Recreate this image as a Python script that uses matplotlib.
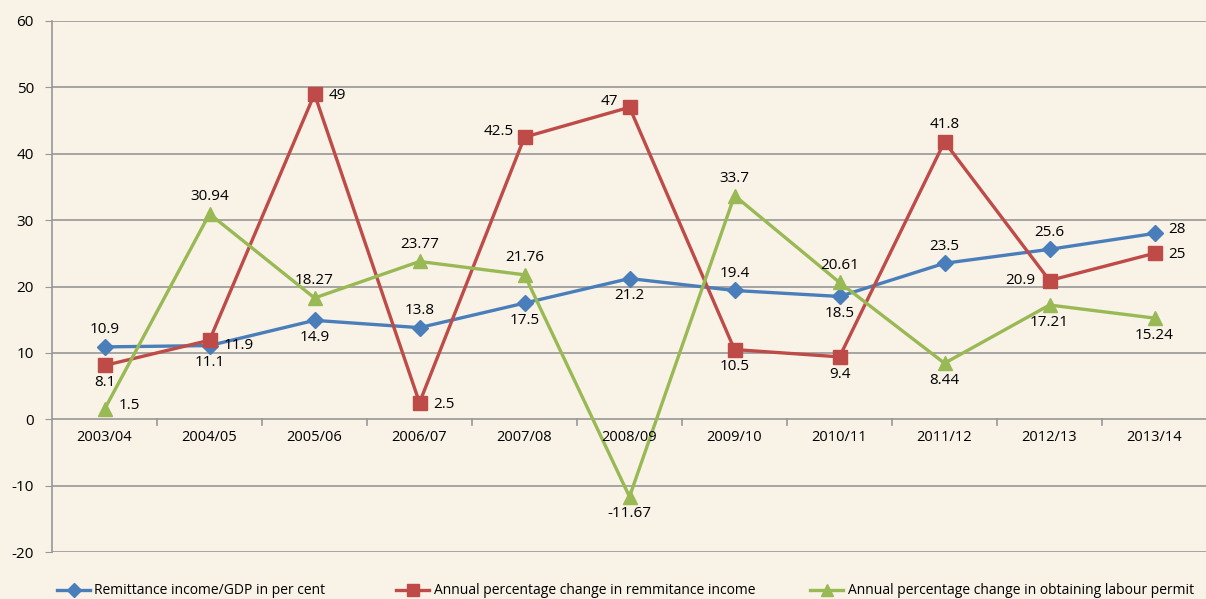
import matplotlib
matplotlib.use("Agg")
import matplotlib.pyplot as plt
from matplotlib.lines import Line2D

plt.rcParams['font.family'] = ['Open Sans', 'DejaVu Sans']
plt.rcParams['axes.unicode_minus'] = False

years = ["2003/04", "2004/05", "2005/06", "2006/07", "2007/08", "2008/09",
         "2009/10", "2010/11", "2011/12", "2012/13", "2013/14"]
gdp_share = [10.9, 11.1, 14.9, 13.8, 17.5, 21.2, 19.4, 18.5, 23.5, 25.6, 28]
remit_change = [8.1, 11.9, 49, 2.5, 42.5, 47, 10.5, 9.4, 41.8, 20.9, 25]
permit_change = [1.5, 30.94, 18.27, 23.77, 21.76, -11.67, 33.7, 20.61, 8.44, 17.21, 15.24]
gdp_labels = ["10.9", "11.1", "14.9", "13.8", "17.5", "21.2", "19.4", "18.5", "23.5", "25.6", "28"]
remit_labels = ["8.1", "11.9", "49", "2.5", "42.5", "47", "10.5", "9.4", "41.8", "20.9", "25"]
permit_labels = ["1.5", "30.94", "18.27", "23.77", "21.76", "-11.67", "33.7", "20.61", "8.44", "17.21", "15.24"]
series_names = ["Remittance income/GDP in per cent",
                "Annual percentage change in remmitance income",
                "Annual percentage change in obtaining labour permit"]

BG = "#f9f2e7"
BLUE = "#4a7ebb"
RED = "#be4b48"
GREEN = "#98b954"
GRID = "#979797"

fig = plt.figure(figsize=(12.06, 5.99), dpi=100, facecolor=BG)
ax = fig.add_axes([52/1206, 1 - 552/599, 1155/1206, 531/599])
ax.set_facecolor(BG)

x = list(range(len(years)))
ax.plot(x, gdp_share, color=BLUE, lw=2.4, marker='D', ms=8, zorder=3)
ax.plot(x, remit_change, color=RED, lw=2.4, marker='s', ms=10, zorder=3)
ax.plot(x, permit_change, color=GREEN, lw=2.4, marker='^', ms=10, zorder=3)

ax.set_xlim(-0.5, len(years) - 0.5)
ax.set_ylim(-20, 60)
ax.set_yticks(range(-20, 61, 10))
ax.grid(axis='y', color=GRID, lw=1.2)
ax.set_axisbelow(True)
for s in ['top', 'right', 'bottom']:
    ax.spines[s].set_visible(False)
ax.spines['left'].set_color(GRID)
ax.spines['left'].set_linewidth(1.2)
ax.tick_params(axis='y', length=5, color=GRID, labelsize=11, pad=8)
ax.tick_params(axis='x', length=0)
ax.set_xticks([])

# category labels and tick marks along the zero line
for i, lab in enumerate(years):
    ax.annotate(lab, (i, 0), xytext=(0, -8), textcoords='offset points',
                ha='center', va='top', fontsize=10.5)
for b in range(1, len(years)):
    ax.plot([b - 0.5, b - 0.5], [0, -0.9], color=GRID, lw=1.2, clip_on=False, zorder=1)

def lab(xi, yi, txt, pos):
    offs = {'above': ((0, 7), 'center', 'bottom'),
            'below': ((0, -7), 'center', 'top'),
            'right': ((10, -1), 'left', 'center'),
            'rightdown': ((10, -4), 'left', 'center'),
            'rightup': ((10, 3), 'left', 'center'),
            'left': ((-10, 0), 'right', 'center'),
            'leftup': ((-8, 4), 'right', 'center')}
    (dx, dy), ha, va = offs[pos]
    ax.annotate(txt, (xi, yi), xytext=(dx, dy), textcoords='offset points',
                ha=ha, va=va, fontsize=11, zorder=5)

gdp_pos = ['above', 'below', 'below', 'above', 'below', 'below', 'above', 'below', 'above', 'above', 'rightup']
remit_pos = ['below', 'rightdown', 'right', 'right', 'leftup', 'leftup', 'below', 'below', 'above', 'left', 'right']
permit_pos = ['rightup', 'above', 'above', 'above', 'above', 'below', 'above', 'above', 'below', 'below', 'below']
for i in x:
    lab(i, gdp_share[i], gdp_labels[i], gdp_pos[i])
    lab(i, remit_change[i], remit_labels[i], remit_pos[i])
    lab(i, permit_change[i], permit_labels[i], permit_pos[i])

# legend (three entries along the bottom edge)
handles = [Line2D([], [], color=BLUE, lw=2.4, marker='D', ms=7),
           Line2D([], [], color=RED, lw=2.4, marker='s', ms=9),
           Line2D([], [], color=GREEN, lw=2.4, marker='^', ms=9)]
xs = [57, 396, 810]
for h, name, xp in zip(handles, series_names, xs):
    fig.legend([h], [name], loc='center left', bbox_to_anchor=(xp/1206, 1 - 591/599),
               frameon=False, fontsize=10, handlelength=2.4, handletextpad=0.3,
               borderaxespad=0, borderpad=0)

fig.savefig("out.png", dpi=100, facecolor=BG)
